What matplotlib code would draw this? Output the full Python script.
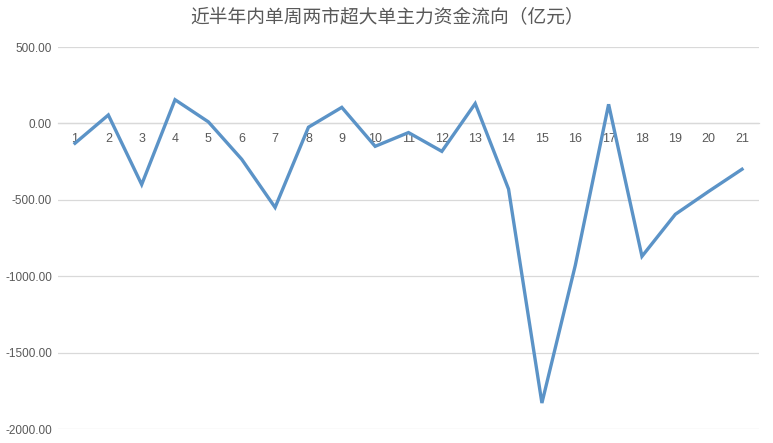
import matplotlib
matplotlib.use("Agg")
import matplotlib.pyplot as plt
from matplotlib import font_manager
from matplotlib.ticker import FuncFormatter, MultipleLocator

weeks = [str(i) for i in range(1, 22)]
flows = [-130, 55, -400, 155, 10, -235, -550, -25, 105, -150, -60,
         -183, 130, -430, -1830, -930, 125, -870, -595, -445, -300]
title = "近半年内单周两市超大单主力资金流向（亿元）"

names = {f.name for f in font_manager.fontManager.ttflist}
tick_font = "Liberation Sans Narrow" if "Liberation Sans Narrow" in names else "Liberation Sans"

fig = plt.figure(figsize=(7.73, 4.43), dpi=100)
ax = fig.add_axes([58.3 / 773, 1 - 429 / 443, (758.7 - 58.3) / 773, (429 - 47) / 443])

x = list(range(1, len(flows) + 1))
ax.plot(x, flows, color="#5B93C7", linewidth=2.4, solid_joinstyle="miter", zorder=3)

ax.set_xlim(0.5, 21.5)
ax.set_ylim(-2000, 500)
ax.yaxis.set_major_locator(MultipleLocator(500))
ax.yaxis.set_major_formatter(FuncFormatter(lambda v, p: f"{v:.2f}"))
ax.grid(axis="y", color="#D9D9D9", linewidth=0.9, zorder=0)

for s in ["top", "right", "left"]:
    ax.spines[s].set_visible(False)
ax.spines["bottom"].set_position(("data", 0))
ax.spines["bottom"].set_color("#D9D9D9")
ax.spines["bottom"].set_linewidth(0.9)

ax.set_xticks(x)
ax.set_xticklabels(weeks)
ax.tick_params(axis="x", length=0, pad=7, labelsize=9, labelcolor="#595959")
ax.tick_params(axis="y", length=0, pad=4.5, labelsize=8.5, labelcolor="#595959")
for lab in ax.get_xticklabels() + ax.get_yticklabels():
    lab.set_fontfamily(tick_font)

fig.text(387 / 773, 1 - 18 / 443, title, ha="center", va="center",
         fontsize=13.5, color="#595959",
         family=["Noto Sans CJK SC", "DejaVu Sans"], fontweight="light")

fig.savefig("out.png", dpi=100)
